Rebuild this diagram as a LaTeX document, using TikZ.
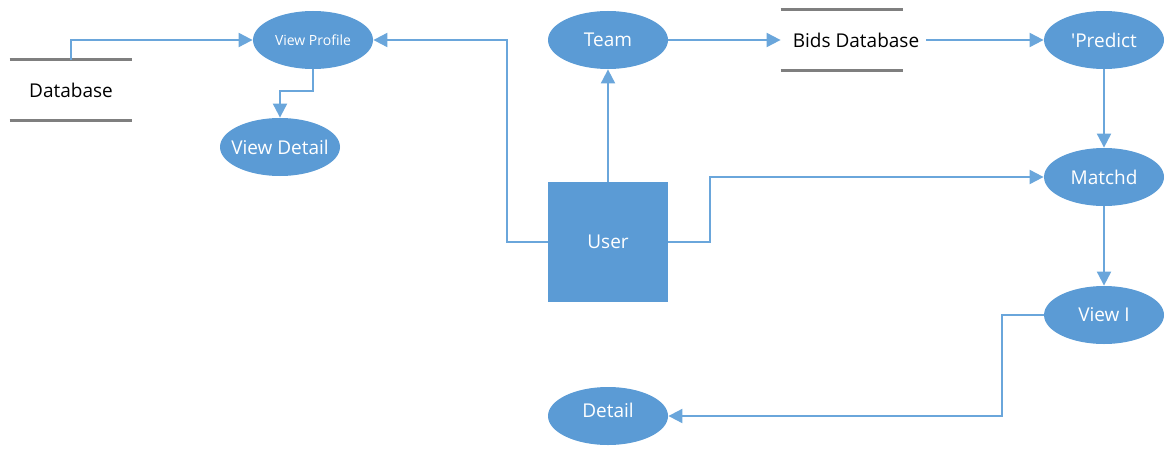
\documentclass[tikz,border=0pt]{standalone}
\usepackage{fontspec}
\setmainfont{Open Sans}
\usetikzlibrary{shapes.geometric,arrows.meta}
\definecolor{dfdblue}{HTML}{5B9BD5}
\definecolor{dfdline}{HTML}{6AA6DB}
\definecolor{dfdgray}{HTML}{7F7F7F}
\begin{document}
\begin{tikzpicture}[x=0.5pt,y=-0.5pt,font=\fontsize{9.5}{11}\selectfont]

  \tikzstyle{proc}=[ellipse,fill=dfdblue,text=white,minimum width=60pt,minimum height=29pt,
                    inner xsep=-6pt,inner ysep=0pt]
  \tikzstyle{entity}=[rectangle,fill=dfdblue,text=white,minimum size=60pt,inner sep=0pt]
  \tikzstyle{store}=[minimum width=61pt,minimum height=30pt,inner sep=0pt]
  \tikzstyle{storeline}=[draw=dfdgray,line width=1.5pt]
  \tikzstyle{flow}=[draw=dfdline,line width=1pt,-{Triangle[length=7pt,width=7pt]}]

  \useasboundingbox (0,0) rectangle (1165,449);

  \foreach \name/\x/\y/\text in {team/608/40/Team, vdetail/280/147/View Detail,
                                 predict/1104/40/\textquotesingle Predict,
                                 match/1104/177/Matchd, viewi/1104/315/View I}
    \node[proc] (\name) at (\x,\y) {\text};
  \node[proc,font=\fontsize{7}{8}\selectfont] (profile) at (313,40) {View Profile};
  \node[proc] (detail) at (608,416) {\raisebox{6pt}{Detail}};

  \node[entity] (user) at (608,242) {User};

  \node[store] (db) at (71,90) {Database};
  \node[store] (bidsdb) at (842,40) {};
  \node (bidstext) at (856,40) {Bids Database};
  \foreach \s in {db,bidsdb}
    \draw[storeline] (\s.north west) -- (\s.north east) (\s.south west) -- (\s.south east);

  \draw[flow] (db.north) |- (profile.west);
  \draw[flow] (profile.south) -- ++(0,22) -| (vdetail.north);
  \draw[flow] (user.west) -- ++(-41,0) |- (profile.east);
  \draw[flow] (user.north) -- (team.south);
  \draw[flow] (user.east) -- ++(42,0) |- (match.west);
  \draw[flow] (team.east) -- (bidsdb.west);
  \draw[flow] (bidstext.east) -- (predict.west);
  \draw[flow] (predict.south) -- (match.north);
  \draw[flow] (match.south) -- (viewi.north);
  \draw[flow] (viewi.west) -- ++(-42,0) |- (detail.east);
\end{tikzpicture}
\end{document}
